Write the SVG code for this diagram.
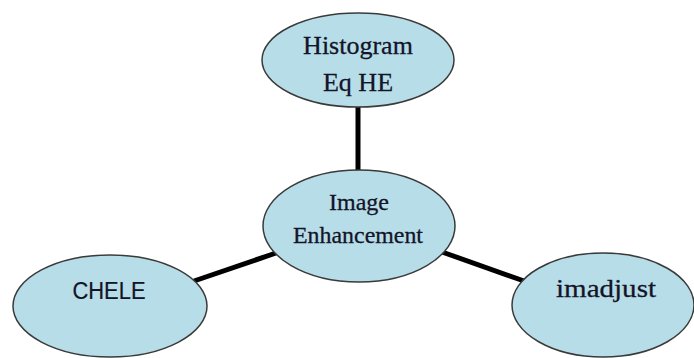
<svg xmlns="http://www.w3.org/2000/svg" width="694" height="358" viewBox="0 0 694 358">
  <style>
    .node ellipse { fill: #b7dee8; stroke: #3a3a3a; stroke-width: 1.5; }
    .serif { font-family: "Liberation Serif", "Times New Roman", serif; fill: #141428; stroke: #141428; stroke-width: 0.3; text-anchor: middle; }
    .sans { font-family: "Liberation Sans", Arial, sans-serif; fill: #141428; stroke: #141428; stroke-width: 0.2; text-anchor: middle; }
    .edge { stroke: #000; stroke-width: 5; stroke-linecap: butt; }
  </style>
  <rect width="694" height="358" fill="#fff"/>

  <!-- connectors from the central node -->
  <g id="connectors">
    <line class="edge" x1="358" y1="106" x2="358" y2="171"/>
    <line class="edge" x1="194" y1="281" x2="276" y2="253"/>
    <line class="edge" x1="442" y1="252" x2="524" y2="281"/>
  </g>

  <g id="node-histogram" class="node">
    <ellipse cx="358" cy="60" rx="96" ry="47"/>
    <text class="serif" x="358" y="54" font-size="26">Histogram</text>
    <text class="serif" x="358" y="91" font-size="26">Eq HE</text>
  </g>

  <g id="node-enhancement" class="node">
    <ellipse cx="359" cy="226" rx="96" ry="56"/>
    <text class="serif" x="359" y="210" font-size="24">Image</text>
    <text class="serif" x="358" y="243" font-size="24" textLength="130" lengthAdjust="spacingAndGlyphs">Enhancement</text>
  </g>

  <g id="node-chele" class="node">
    <ellipse cx="110" cy="306" rx="97" ry="51"/>
    <text class="sans" x="109" y="299" font-size="23" textLength="73" lengthAdjust="spacingAndGlyphs">CHELE</text>
  </g>

  <g id="node-imadjust" class="node">
    <ellipse cx="603" cy="305" rx="91" ry="52"/>
    <text class="serif" x="606" y="297" font-size="26" textLength="100" lengthAdjust="spacingAndGlyphs">imadjust</text>
  </g>
</svg>
